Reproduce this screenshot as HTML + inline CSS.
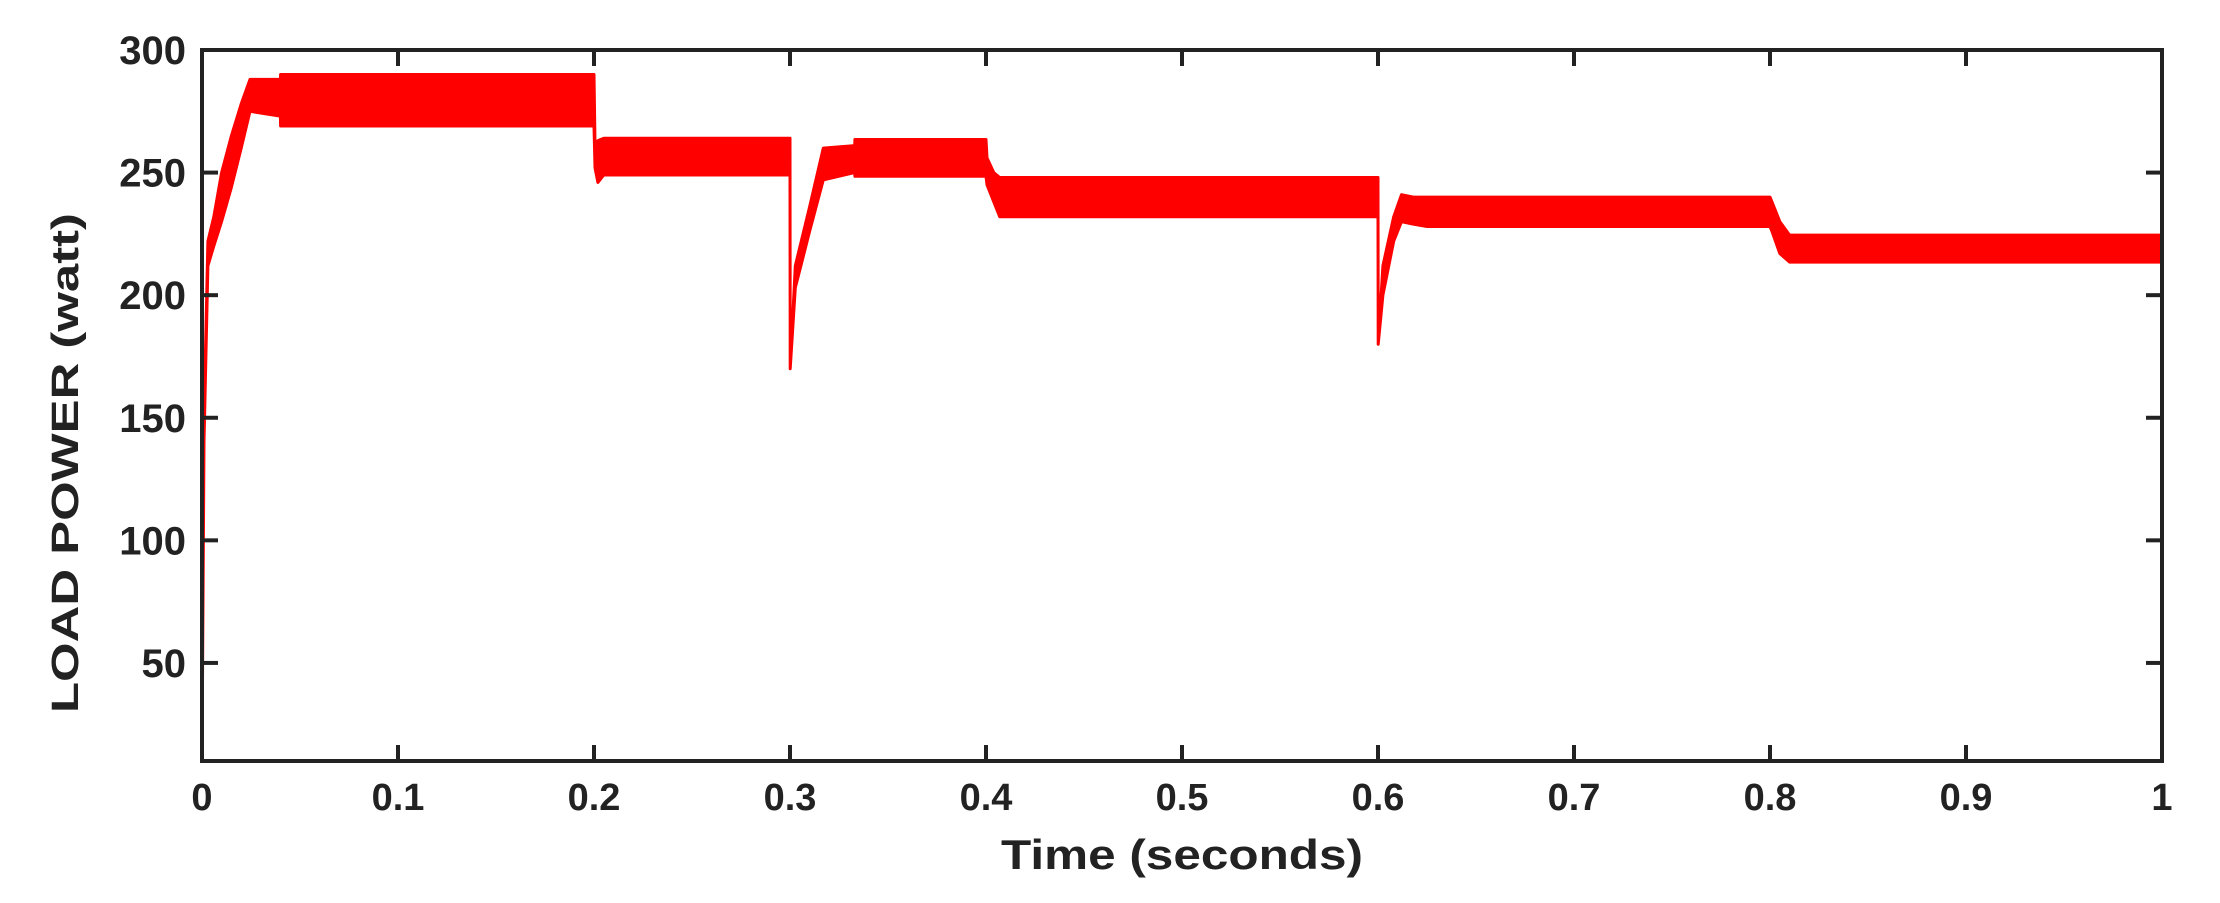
<!DOCTYPE html>
<html><head><meta charset="utf-8"><style>
html,body{margin:0;padding:0;background:#fff;}
svg{display:block;font-family:"Liberation Sans",Arial,sans-serif;font-weight:bold;}
</style></head><body>
<svg id="chart" width="2220" height="903" viewBox="0 0 2220 903" xmlns="http://www.w3.org/2000/svg">
<g id="series"></g>
<g id="axes"></g>
<text transform="translate(78,463) rotate(-90)" text-anchor="middle" font-size="38" fill="#222" textLength="500" lengthAdjust="spacingAndGlyphs">LOAD POWER (watt)</text>
<text x="1182" y="869" text-anchor="middle" font-size="42" fill="#222" textLength="362" lengthAdjust="spacingAndGlyphs">Time (seconds)</text>
</svg>
<script>
const times = [0,.001,.003,.006,.010,.015,.020,.0245,.040,.0401,.2,.2005,.202,.205,.3,.3001,.3027,.310,.317,.333,.3331,.4,.4005,.404,.407,.6,.6001,.6025,.608,.612,.618,.625,.8,.801,.805,.81,1];
const upper = [10,150,222,232,250,265,278,288,288,290,290,262,263,264,264,170,212,236,260,261,263.5,263.5,256,250,248,248,180,212,232,241,240,240,240,238,230,224.5,224.5];
const lower = [10,140,212,220,230,244,260,275,273,269,269,252,246,249,249,170,203,226,247,250,248.5,248.5,245,238,232,232,180,200,222,230,229,228,228,226,217,213.5,213.5];
const xTicks = [0,0.1,0.2,0.3,0.4,0.5,0.6,0.7,0.8,0.9,1];
const xTickLabels = ["0","0.1","0.2","0.3","0.4","0.5","0.6","0.7","0.8","0.9","1"];
const yTicks = [50,100,150,200,250,300];
const yTickLabels = ["50","100","150","200","250","300"];
const L=202,R=2162,T=50,B=761,XMIN=0,XMAX=1,YMIN=10,YMAX=300;
const sx=v=>L+(v-XMIN)/(XMAX-XMIN)*(R-L);
const sy=v=>B-(v-YMIN)/(YMAX-YMIN)*(B-T);
const NS="http://www.w3.org/2000/svg";
const series=document.getElementById('series');
let pts=[];
for(let i=0;i<times.length;i++)pts.push(sx(times[i]).toFixed(1)+','+sy(upper[i]).toFixed(1));
for(let i=times.length-1;i>=0;i--)pts.push(sx(times[i]).toFixed(1)+','+sy(lower[i]).toFixed(1));
const band=document.createElementNS(NS,'polygon');
band.setAttribute('points',pts.join(' '));
band.setAttribute('fill','#ff0000');
band.setAttribute('stroke','#ff0000');
band.setAttribute('stroke-width','3');
band.setAttribute('stroke-linejoin','round');


series.appendChild(band);
const axes=document.getElementById('axes');
function mk(tag,attrs){const e=document.createElementNS(NS,tag);for(const k in attrs)e.setAttribute(k,attrs[k]);return e;}
const frame=mk('rect',{x:L,y:T,width:R-L,height:B-T,fill:'none',stroke:'#222','stroke-width':4});


axes.appendChild(frame);
xTicks.forEach((t,i)=>{
  const x=sx(t);
  const a=mk('line',{x1:x,y1:B,x2:x,y2:B-16,stroke:'#222','stroke-width':4});
  
  
  axes.appendChild(a);
  const b=mk('line',{x1:x,y1:T,x2:x,y2:T+16,stroke:'#222','stroke-width':4});
  
  
  axes.appendChild(b);
  const tx=mk('text',{x:x,y:810,'text-anchor':'middle','font-size':38,fill:'#222'});
  tx.textContent=xTickLabels[i];
  
  
  axes.appendChild(tx);
});
yTicks.forEach((v,i)=>{
  const y=sy(v);
  const a=mk('line',{x1:L,y1:y,x2:L+16,y2:y,stroke:'#222','stroke-width':4});
  
  
  axes.appendChild(a);
  const b=mk('line',{x1:R,y1:y,x2:R-16,y2:y,stroke:'#222','stroke-width':4});
  
  
  axes.appendChild(b);
  const tx=mk('text',{x:186,y:y+14,'text-anchor':'end','font-size':40,fill:'#222'});
  tx.textContent=yTickLabels[i];
  
  
  axes.appendChild(tx);
});
</script>
</body></html>
